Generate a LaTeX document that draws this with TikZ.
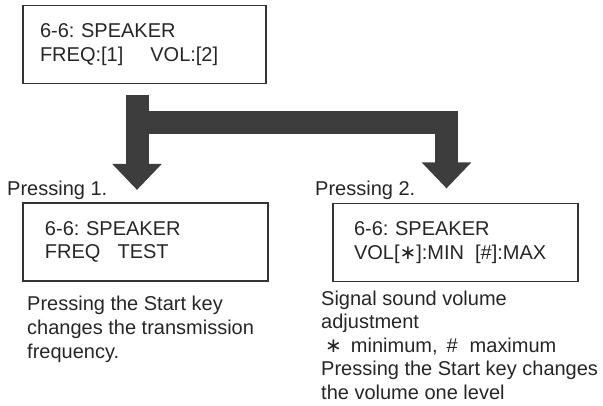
\documentclass[tikz,border=0pt]{standalone}
\usepackage{fontspec}
\setmainfont{Liberation Sans}
\newfontfamily\symfont{DejaVu Sans}
\usetikzlibrary{arrows.meta}
\frenchspacing

\begin{document}
\begin{tikzpicture}[x=1pt, y=-1pt,
  every node/.style={font=\fontsize{20}{24.4}\selectfont, text=black!85},
  screen/.style={draw=black!80, line width=1.2pt, minimum height=78pt, align=left,
    inner ysep=0pt, font=\fontsize{20}{23.5}\selectfont},
  note/.style={anchor=north west, inner sep=0pt, align=left},
  bigarrow/.style={draw=black!76, line width=23pt, line join=miter,
    -{Triangle[width=48pt, length=26pt]}}]
  \useasboundingbox (0,0) rectangle (603,405);

  % --- Speaker menu ---
  \node[screen, minimum width=243pt, text width=209pt, inner xsep=17pt] (menu)
    at (144.5,44.5) {6-6: SPEAKER\\FREQ:[1]\hspace{1.35em}VOL:[2]};

  % --- Pressing 1 ---
  \node[anchor=base west, inner sep=0pt] (press1) at (7,195) {Pressing 1.};
  \node[screen, minimum width=245pt, text width=201pt, inner xsep=22pt] (freqbox)
    at (145.5,242) {6-6: SPEAKER\\FREQ\hspace{0.85em}TEST};
  \node[note] (freqnote) at (27,295.5)
    {Pressing the Start key\\changes the transmission\\frequency.};

  % --- Pressing 2 ---
  \node[anchor=base west, inner sep=0pt] (press2) at (315,195) {Pressing 2.};
  \node[screen, minimum width=245pt, text width=203pt, inner xsep=21pt] (volbox)
    at (455.5,242.5) {6-6: SPEAKER\\VOL[{\symfont ∗}]:MIN\hspace{0.55em}[\#]:MAX};
  \node[note, font=\fontsize{20}{23.6}\selectfont] (volnote) at (321,290.5)
    {Signal sound volume\\adjustment\\
     \hspace{0.2em}{\symfont ∗}\hspace{0.45em}minimum,\hspace{0.45em}\#\hspace{0.6em}maximum\\
     Pressing the Start key changes\\the volume one level};

  % --- Arrows ---
  \coordinate (fork) at (137,122.5);
  \coordinate (bend) at (446.5,122.5);
  \draw[bigarrow, shorten <=10.5pt, shorten >=12.5pt] (menu.south -| fork) -- (freqbox.north -| fork);
  \draw[bigarrow, shorten >=14.5pt] (fork) -- (bend) -- (volbox.north -| bend);
\end{tikzpicture}
\end{document}
